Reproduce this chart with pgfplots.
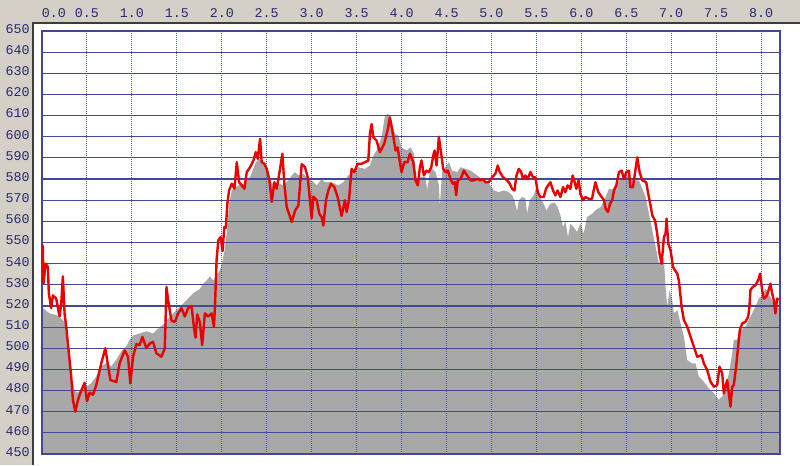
\documentclass[border=0pt]{standalone}
\usepackage{pgfplots}
\pgfplotsset{compat=1.18}
\usepackage{fontspec}
\newfontfamily\lblfont{Liberation Mono}

\definecolor{winbg}{RGB}{212,208,200}
\definecolor{edge}{RGB}{60,60,60}
\definecolor{framecol}{RGB}{70,70,150}
\definecolor{hgrid}{RGB}{66,74,148}
\definecolor{vgrid}{RGB}{80,90,170}
\definecolor{lblcol}{RGB}{40,40,110}
\definecolor{terrain}{RGB}{168,168,168}
\definecolor{track}{RGB}{235,0,0}

% shared axis geometry (1 px = 0.75 pt)
\pgfplotsset{profile/.style={
    at={(0,0)}, anchor=south west,
    scale only axis, width=553.5pt, height=317.25pt,
    xmin=0, xmax=8.21, ymin=450, ymax=650,
}}

\begin{document}
\begin{tikzpicture}
\useasboundingbox (-31.5pt,-8.25pt) rectangle (568.5pt,340.5pt);
\clip (-31.5pt,-8.25pt) rectangle (568.5pt,340.5pt);
\fill[winbg] (-31.5pt,-8.25pt) rectangle (568.5pt,340.5pt);
\fill[white] (-6.75pt,-8.25pt) rectangle (568.5pt,323.25pt);
\draw[edge, line width=1.2pt] (-6.75pt,-8.25pt) -- (-6.75pt,323.25pt) -- (568.5pt,323.25pt);

% terrain, grid and labels
\begin{axis}[profile,
    axis on top,
    xtick={0,0.5,...,8},
    xticklabels={\phantom{0.0}0.0,0.5,1.0,1.5,2.0,2.5,3.0,3.5,4.0,4.5,5.0,5.5,6.0,6.5,7.0,7.5,8.0},
    ytick={450,460,...,650},
    xticklabel pos=upper,
    major tick length=0pt,
    grid=major,
    x grid style={vgrid, line width=0.7pt, dash pattern=on 0.75pt off 0.75pt},
    y grid style={hgrid, line width=0.9pt},
    axis line style={framecol, line width=1.2pt},
    tick label style={font=\lblfont\fontsize{10}{10}\selectfont, text=lblcol, inner sep=0pt},
    xticklabel style={anchor=center, yshift=13.3pt},
    yticklabel style={anchor=east, xshift=-9pt, yshift=1.5pt},
    /pgf/number format/assume math mode=true,
    clip=true,
]
\addplot[fill=terrain, draw=none] table {
x y
0.000 508
0.009 519
0.084 516.5
0.158 515.7
0.214 514
0.251 512.5
0.288 499
0.314 488
0.344 484
0.362 480
0.400 479
0.455 482
0.500 482
0.548 483.5
0.604 486.6
0.660 491.5
0.716 493
0.771 491.5
0.827 494.6
0.883 498.6
0.939 501
0.976 504
1.013 506
1.087 507
1.162 508
1.236 507
1.310 510
1.366 511.7
1.403 514
1.459 516.5
1.533 519.6
1.608 522.7
1.682 526
1.756 528
1.794 530.6
1.831 532
1.868 534
1.905 532
1.942 534.5
1.980 537
2.000 540
2.030 546
2.060 556
2.080 568
2.111 574.6
2.185 577
2.259 578
2.315 581
2.370 587
2.407 589.6
2.444 588.8
2.500 584.8
2.556 578
2.630 578
2.685 577
2.741 579.4
2.778 581.7
2.815 583.3
2.852 581.7
2.907 582.5
2.963 580
3.000 579.4
3.056 577
3.111 580
3.148 578.5
3.222 578.5
3.296 577
3.352 578.5
3.407 581.7
3.463 583.3
3.519 585.6
3.593 584.8
3.648 586.4
3.685 591
3.722 593.5
3.778 599.8
3.815 610
3.852 610.8
3.889 607.6
3.926 601.4
3.963 600.6
4.000 595
4.056 593.5
4.100 595
4.137 592
4.174 576
4.211 581
4.267 581
4.285 574.6
4.322 585.6
4.378 583.3
4.415 577
4.426 567.5
4.452 584
4.489 585.6
4.526 588
4.563 584
4.619 583.3
4.656 585.6
4.711 584.8
4.767 584
4.841 581.7
4.915 579.4
4.970 578
5.026 574.6
5.081 573.8
5.137 574.6
5.193 573.8
5.230 572.3
5.256 570
5.285 564.7
5.304 570
5.341 571.5
5.378 570.7
5.396 563.6
5.426 570
5.470 572.3
5.500 576.2
5.526 571.5
5.563 570
5.611 565.2
5.656 568.3
5.700 569
5.737 566.8
5.767 562.8
5.796 557.3
5.822 560
5.852 552.6
5.878 558.9
5.915 557.3
5.952 555
5.989 559
6.026 554.2
6.063 562
6.119 563.6
6.156 565.2
6.215 566.8
6.270 571.5
6.307 575.4
6.344 575
6.381 577
6.437 580
6.493 581.7
6.548 580.8
6.604 579.4
6.641 579.4
6.678 575.4
6.715 571.5
6.752 563.6
6.789 555.8
6.826 548
6.863 540
6.900 543
6.919 541.6
6.937 529
6.956 519.6
6.981 527.5
7.011 522.7
7.030 516.5
7.067 518
7.104 511.7
7.141 505.4
7.178 494.4
7.233 492.8
7.270 492.8
7.307 486.6
7.363 484.2
7.419 481
7.474 478.7
7.530 475.6
7.567 477.2
7.604 481.8
7.641 488
7.678 497.6
7.696 503.9
7.733 504
7.770 508.6
7.826 510.2
7.863 513.3
7.900 516.5
7.937 519.6
7.974 523.5
8.011 525
8.048 528.2
8.085 525.8
8.122 522.7
8.159 519.6
8.210 518.8
} \closedcycle;
\node[font=\lblfont\fontsize{10}{10}\selectfont, text=lblcol, anchor=west, inner sep=0pt,
      xshift=2.25pt, yshift=13.3pt] at (rel axis cs:1,1) {[km};
\end{axis}

% GPS track on top of the grid
\begin{axis}[profile, hide axis]
\addplot[track, line width=1.8pt, line join=round] table {
x y
0.000 549
0.009 548
0.017 530.6
0.039 540
0.065 538.5
0.076 526
0.102 519
0.121 525
0.158 523.5
0.195 515
0.214 521
0.232 534
0.251 516.5
0.270 510
0.299 497.6
0.325 486.6
0.344 475.6
0.370 470
0.400 475.6
0.437 480
0.474 483.7
0.500 475
0.530 479
0.567 478
0.604 482.6
0.660 493
0.704 500
0.734 492
0.760 485
0.827 484
0.864 493
0.920 499
0.957 496
0.983 483.4
1.013 496
1.050 502
1.087 501.5
1.117 505.4
1.162 500
1.199 502.3
1.236 503
1.273 497.6
1.329 496
1.366 500
1.385 529
1.403 522.7
1.441 513
1.478 512.5
1.515 516.5
1.552 519
1.589 515
1.626 519
1.664 520
1.690 510
1.708 505
1.727 516
1.755 512.5
1.782 501.5
1.812 516.5
1.849 515
1.887 516.5
1.913 510
1.924 519.6
1.942 541.6
1.961 551
1.987 552.6
2.009 546
2.028 557.3
2.046 557
2.061 568
2.081 574.6
2.111 577.8
2.141 575.4
2.167 588
2.193 578.5
2.222 577
2.252 575.4
2.278 583.3
2.315 585.6
2.352 588.8
2.378 592.7
2.400 589.6
2.426 599
2.444 588
2.474 587.2
2.500 584.8
2.530 579.4
2.556 569.2
2.585 578.5
2.611 575.4
2.648 584.8
2.674 592
2.696 577.8
2.722 566.8
2.748 563.6
2.778 559.7
2.815 565
2.852 567.5
2.889 587
2.926 585.6
2.956 580.8
2.981 570
3.000 561.5
3.019 571.7
3.056 570
3.085 563.6
3.111 562
3.130 558
3.159 570
3.185 574.6
3.215 577.8
3.252 576.2
3.289 571.5
3.333 562.6
3.370 570
3.389 564.4
3.415 570
3.444 584.8
3.474 583.3
3.511 587.2
3.556 587.2
3.593 588
3.630 588.8
3.648 601.4
3.667 606
3.685 599.8
3.722 598.2
3.759 592.7
3.807 596.6
3.844 603
3.870 609.2
3.907 600.6
3.933 593.5
3.956 595
3.981 588
4.000 583.3
4.030 588
4.067 588
4.093 592
4.130 588
4.156 579.3
4.181 577
4.204 585.6
4.222 588.8
4.248 581.7
4.278 584
4.304 583.3
4.330 585.6
4.352 591
4.367 593.5
4.389 586.4
4.415 600
4.441 592
4.463 584.8
4.489 583.3
4.515 584
4.544 580
4.570 577.8
4.593 578.5
4.607 572.3
4.626 579.4
4.656 580
4.693 584
4.730 581.7
4.767 579.4
4.804 579.4
4.841 580
4.878 579.4
4.907 580
4.933 578.5
4.970 578.5
5.007 580.8
5.044 582.5
5.070 586.4
5.093 583.3
5.130 580.8
5.174 579.4
5.204 577.8
5.230 575.4
5.256 574.6
5.278 581.7
5.304 584.8
5.330 583.3
5.352 580
5.378 581.7
5.404 580
5.433 583.3
5.463 580.8
5.489 580.8
5.515 573.8
5.544 571.5
5.581 571.5
5.607 575.4
5.630 577
5.656 578.5
5.685 574.6
5.711 572.3
5.737 574.6
5.767 571.5
5.796 576.2
5.822 573.8
5.848 577
5.878 575.4
5.904 581.7
5.926 578.5
5.944 575.4
5.970 579.4
5.989 573
6.019 570
6.044 571.5
6.081 570.7
6.119 570.7
6.137 574.6
6.156 578.5
6.189 573.8
6.226 571.5
6.252 570
6.270 566
6.296 564.4
6.319 568.3
6.344 570
6.363 574.6
6.389 577
6.419 583.3
6.448 584
6.474 580
6.500 583.3
6.530 584
6.544 576.2
6.574 576.2
6.596 582.5
6.622 590.3
6.648 583.3
6.678 579.4
6.722 578.5
6.744 573
6.770 567.5
6.789 562.8
6.819 560.5
6.844 554.2
6.870 544.7
6.893 540
6.919 552.6
6.937 554.2
6.948 561.3
6.967 549.5
6.993 546.3
7.019 538.5
7.041 536.9
7.067 535.3
7.085 532
7.115 519.6
7.141 513.3
7.178 510.2
7.215 505.4
7.252 500.7
7.289 496
7.337 496.7
7.363 492.8
7.400 489.7
7.437 484.2
7.474 481.8
7.511 482.6
7.537 491.3
7.567 488.2
7.585 478.7
7.604 481.8
7.622 485
7.641 478.7
7.659 472.4
7.678 481.8
7.696 482.6
7.722 491.3
7.744 500.7
7.763 508.6
7.789 511.7
7.826 512.5
7.856 514.9
7.870 519.6
7.881 527.5
7.907 529
7.937 529.8
7.967 532.2
7.989 535.3
8.011 527.5
8.030 523.5
8.056 524.3
8.078 526.7
8.104 530.6
8.122 526
8.141 522.7
8.159 516.5
8.178 523.5
8.196 522.7
};
\end{axis}
\end{tikzpicture}
\end{document}
